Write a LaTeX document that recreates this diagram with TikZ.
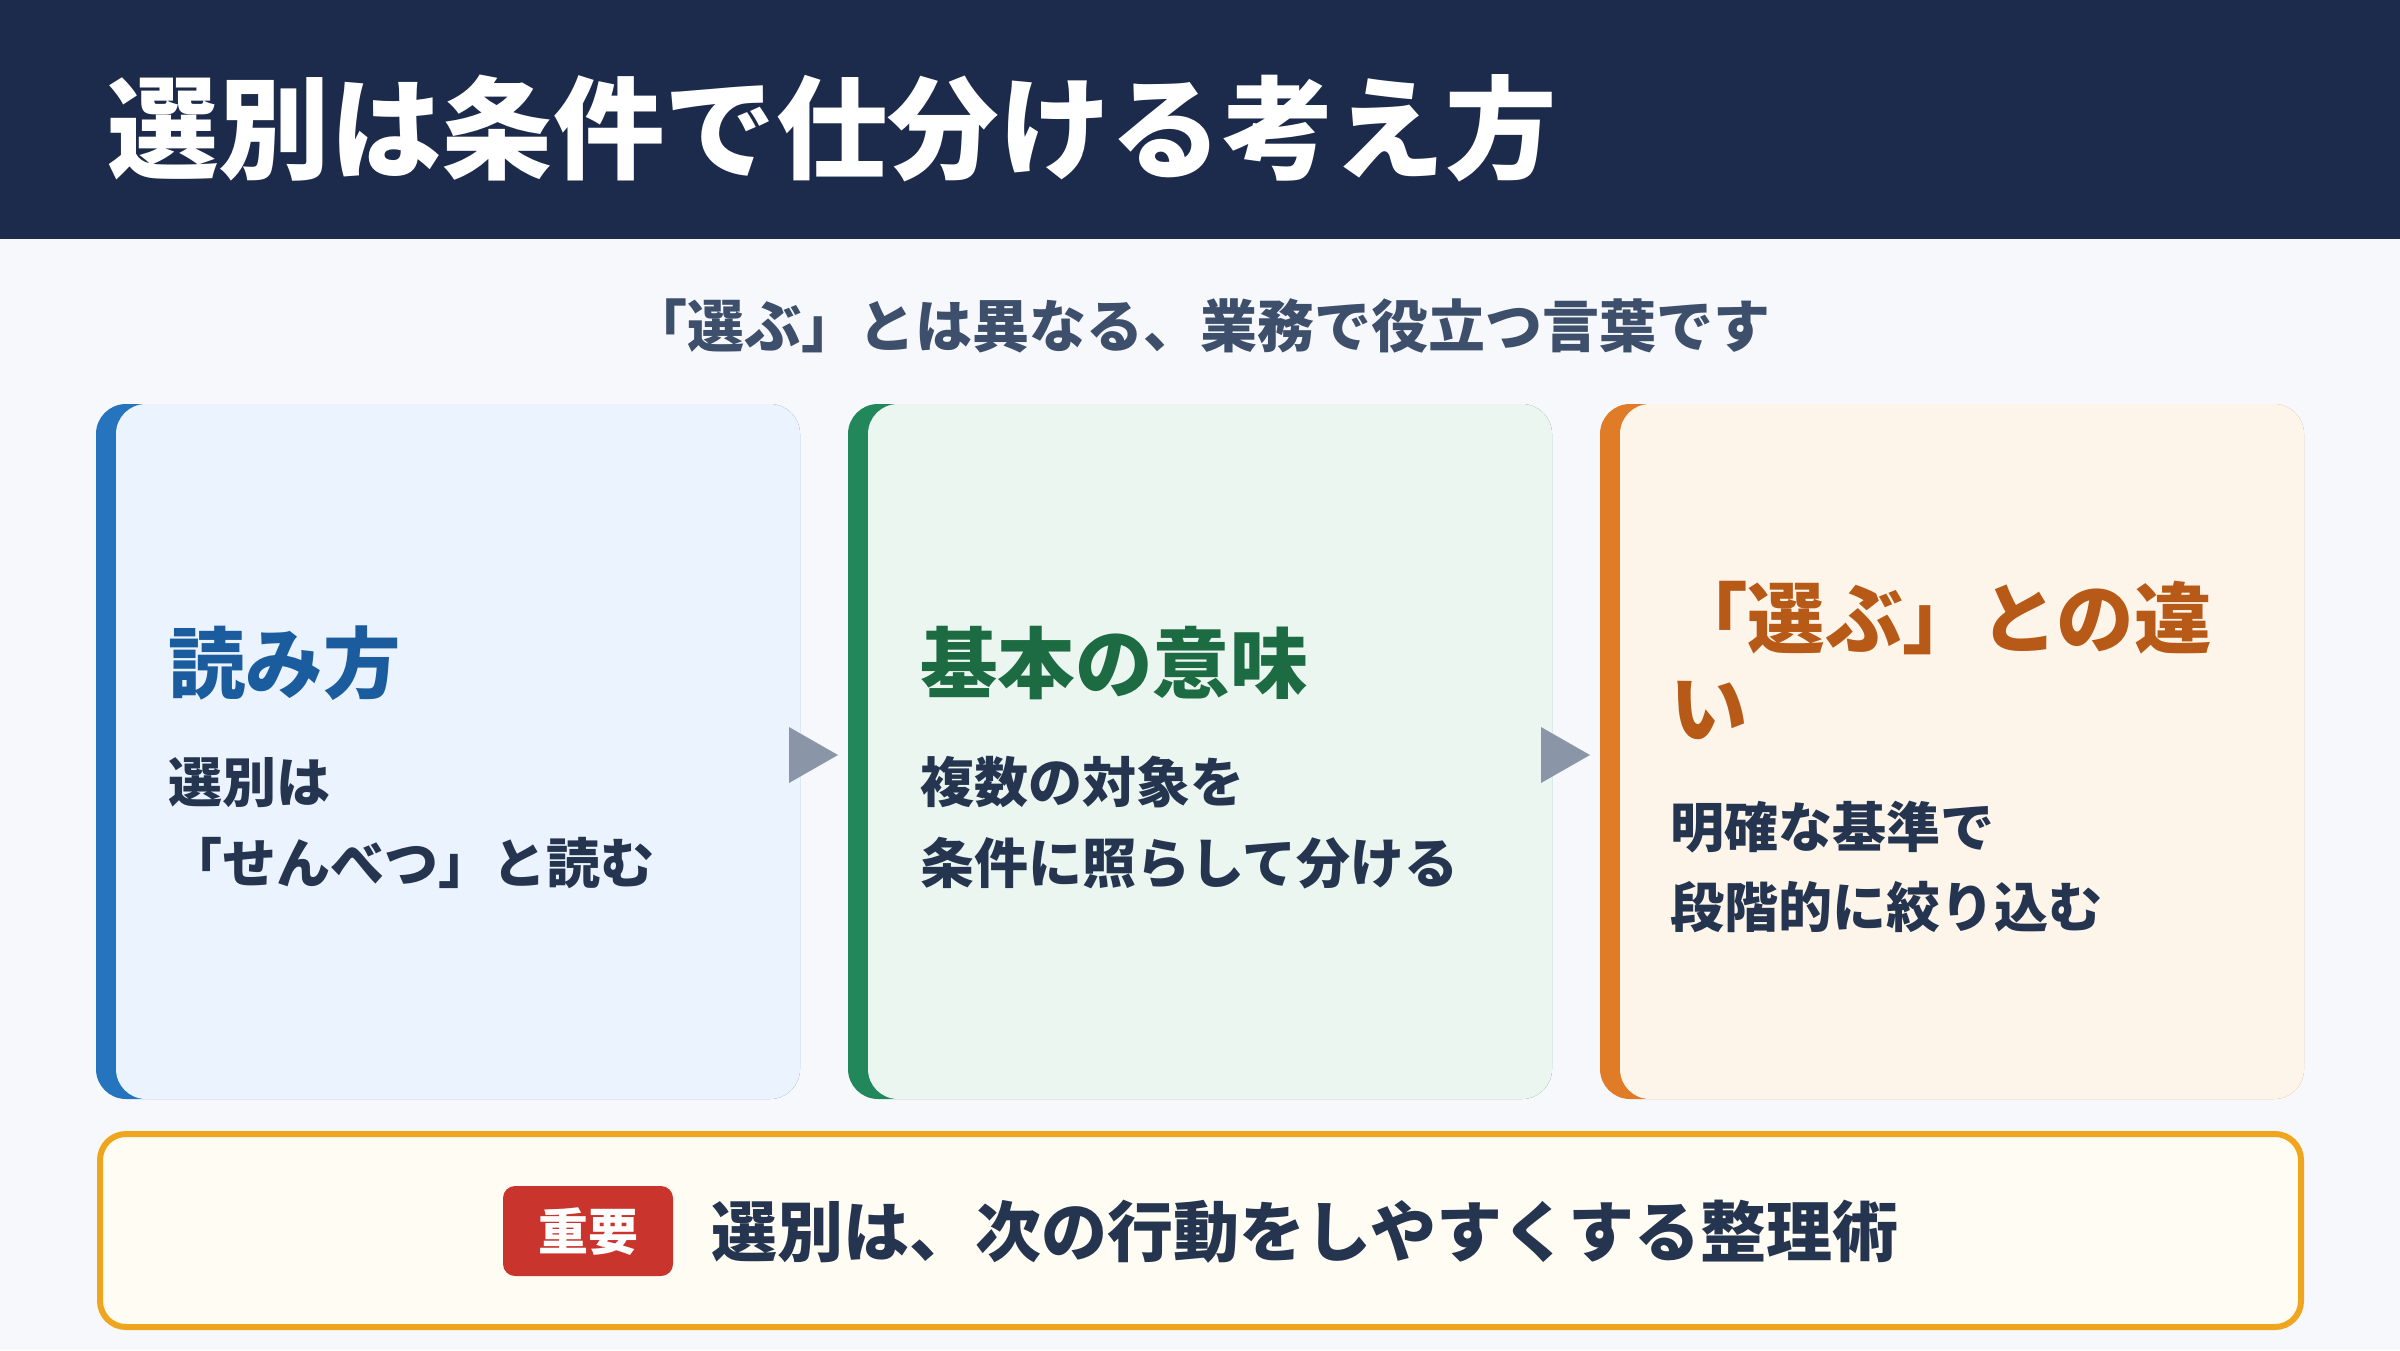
\documentclass[tikz,border=0pt]{standalone}
\usepackage{fontspec}
\setmainfont{Noto Sans CJK JP}
\definecolor{bgc}{HTML}{F6F8FC}
\definecolor{headc}{HTML}{1C2B4B}
\definecolor{subc}{HTML}{3E4F6B}
\definecolor{bodyc}{HTML}{25354F}
\definecolor{fillA}{HTML}{EBF3FE}
\definecolor{barA}{HTML}{2673BE}
\definecolor{titA}{HTML}{1A5C9E}
\definecolor{fillB}{HTML}{EAF6EF}
\definecolor{barB}{HTML}{22885C}
\definecolor{titB}{HTML}{1D6B43}
\definecolor{fillC}{HTML}{FEF5EA}
\definecolor{barC}{HTML}{E07B27}
\definecolor{titC}{HTML}{B85A17}
\definecolor{arrc}{HTML}{8A96A8}
\definecolor{notefill}{HTML}{FFFCF3}
\definecolor{noteline}{HTML}{F0A51F}
\definecolor{badgec}{HTML}{C9342C}
\newcommand\fsz[1]{\fontsize{#1}{#1}\selectfont}
\begin{document}
\begin{tikzpicture}[x=1pt,y=-1pt,
  txt/.style={inner sep=0pt, outer sep=0pt, anchor=base west},
  ctitle/.style={txt, font=\bfseries\fsz{77.5}},
  cbody/.style={txt, text=bodyc, font=\bfseries\fsz{54}},
  cardbar/.style={rounded corners=30pt},
  cardin/.style={rounded corners=30pt},
  tri/.style={fill=arrc}]
\fill[bgc] (0,0) rectangle (2400,1350);
\useasboundingbox (0,0) rectangle (2400,1350);
% header
\fill[headc] (0,0) rectangle (2400,239);
\node[txt, text=white, font=\bfseries\fsz{111.5}] (title) at (107,170) {選別は条件で仕分ける考え方};
% subtitle
\node[txt, anchor=base, text=subc, font=\bfseries\fsz{57}] (subtitle) at (1200,347) {「選ぶ」とは異なる、業務で役立つ言葉です};
% card 1
\fill[barA, cardbar] (96,404) rectangle (800,1099);
\fill[fillA, cardin] (116,404) rectangle (800,1099);
\node[ctitle, text=titA] (t1) at (168,692) {読み方};
\node[cbody] (b1a) at (168,802) {選別は};
\node[cbody] (b1b) at (168,883) {「せんべつ」と読む};
% card 2
\fill[barB, cardbar] (848,404) rectangle (1552,1099);
\fill[fillB, cardin] (868,404) rectangle (1552,1099);
\node[ctitle, text=titB] (t2) at (920,692) {基本の意味};
\node[cbody] (b2a) at (920,802) {複数の対象を};
\node[cbody] (b2b) at (920,883) {条件に照らして分ける};
% card 3
\fill[barC, cardbar] (1600,404) rectangle (2304,1099);
\fill[fillC, cardin] (1620,404) rectangle (2304,1099);
\node[ctitle, text=titC] (t3a) at (1670,647) {「選ぶ」との違};
\node[ctitle, text=titC] (t3b) at (1670,737) {い};
\node[cbody] (b3a) at (1670,847) {明確な基準で};
\node[cbody] (b3b) at (1670,927) {段階的に絞り込む};
% arrows
\fill[tri] (789,727) -- (838,755) -- (789,783) -- cycle;
\fill[tri] (1541,727) -- (1590,755) -- (1541,783) -- cycle;
% bottom note
\draw[line width=6pt, draw=noteline, fill=notefill, rounded corners=26pt] (100,1134) rectangle (2301,1327);
\fill[badgec, rounded corners=12pt] (503,1186) rectangle (673,1276);
\node[txt, anchor=base, text=white, font=\bfseries\fsz{50}] (badge) at (588,1250) {重要};
\node[txt, text=bodyc, font=\bfseries\fsz{66}] (note) at (711,1256) {選別は、次の行動をしやすくする整理術};
\end{tikzpicture}
\end{document}
